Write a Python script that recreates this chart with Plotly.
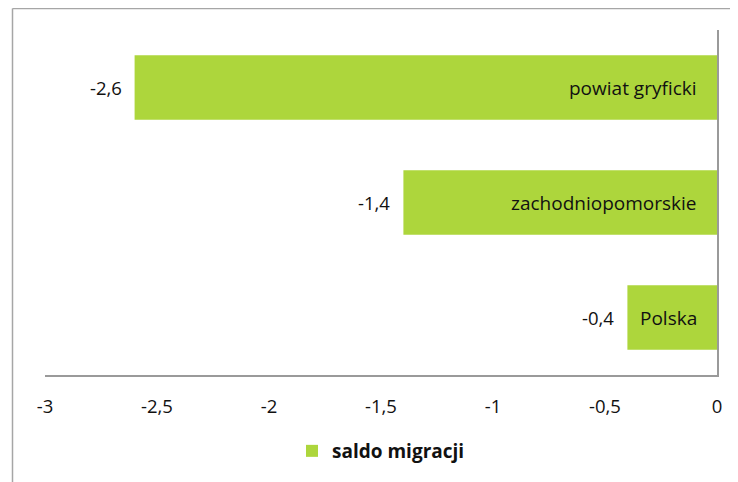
import plotly.graph_objects as go

categories = ["Polska", "zachodniopomorskie", "powiat gryficki"]
values = [-0.4, -1.4, -2.6]
value_labels = ["-0,4", "-1,4", "-2,6"]
tick_vals = [-3, -2.5, -2, -1.5, -1, -0.5, 0]
tick_text = ["-3", "-2,5", "-2", "-1,5", "-1", "-0,5", "0"]
series_name = "saldo migracji"

GREEN = "#ADD63C"
FONT = "'Open Sans', sans-serif"
TXT = "#111111"

# page offset introduced by browser default body margin (8px)
OFF = 8
W, H = 738 - OFF, 482 - OFF
L, T = 45 - OFF, 30 - OFF
pw, ph = 672, 345
R = W - L - pw
B = H - T - ph

fig = go.Figure()
fig.add_trace(go.Bar(
    y=categories, x=values, orientation="h", name=series_name,
    marker=dict(color=GREEN, line=dict(width=0)),
    showlegend=True,
))

annotations = []
for c, v, lab in zip(categories, values, value_labels):
    annotations.append(dict(x=v, y=c, xref="x", yref="y", text=lab, showarrow=False,
                            xanchor="right", xshift=-11, font=dict(size=18.5, color=TXT, family=FONT)))
    annotations.append(dict(x=0, y=c, xref="x", yref="y", text=c, showarrow=False,
                            xanchor="right", xshift=-18, font=dict(size=19, color=TXT, family=FONT)))


def px(xpage):
    return (xpage - OFF - L) / pw


def py(ypage):
    return (H - B - (ypage - OFF)) / ph


shapes = [
    dict(type="line", xref="paper", yref="paper", x0=px(12.5), x1=px(12.5), y0=py(8.5), y1=py(495),
         line=dict(color="#a6a6a6", width=1.5)),
    dict(type="line", xref="paper", yref="paper", x0=px(12.5), x1=px(750), y0=py(8.5), y1=py(8.5),
         line=dict(color="#a6a6a6", width=1.5)),
]

fig.update_layout(
    width=W, height=H,
    margin=dict(l=L, r=R, t=T, b=B),
    paper_bgcolor="white", plot_bgcolor="white",
    bargap=0.44,
    font=dict(family=FONT, size=18, color=TXT),
    xaxis=dict(range=[-3, 0], tickvals=tick_vals, ticktext=tick_text, showgrid=False,
               zeroline=False, showline=True, linecolor="#9a9a9a", linewidth=1.5,
               ticks="", ticklabelstandoff=14, tickfont=dict(size=18.5, family=FONT, color=TXT),
               fixedrange=True),
    yaxis=dict(showticklabels=False, showgrid=False, zeroline=False, side="right",
               showline=True, linecolor="#9a9a9a", linewidth=1.5, ticks="",
               range=[-0.5, 2.5]),
    legend=dict(orientation="h", x=0.5, xanchor="center", y=py(451), yanchor="middle",
                font=dict(size=19, family=FONT, color=TXT, weight="bold")),
    annotations=annotations,
    shapes=shapes,
)

fig.write_html("out.html")
